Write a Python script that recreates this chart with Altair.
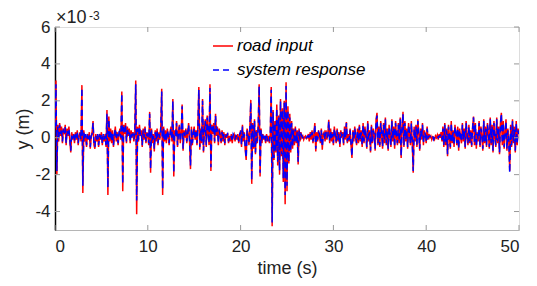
import altair as alt
import pandas as pd

# values in units of 1e-3 m, sampled every 0.1 s from 0 to 50 s
road_input = [
    0.6, 3.1, -2.0, 0.7, -0.2, 0.8, 0.1, 0.6, -0.3, 0.5,
    0.2, 0.7, -0.4, 0.5, 0.1, 0.6, -0.2, -0.8, 0.3, -0.1,
    0.2, -0.3, 0.3, -0.1, 0.4, -0.4, 0.1, 0.3, -0.2, 2.85,
    -3.0, 0.4, -0.2, 0.1, -0.5, 0.2, -0.1, 0.3, -0.6, 0.0,
    0.3, 0.9, -0.4, -0.6, 0.2, -0.2, 0.1, -0.5, 0.2, -0.1,
    0.3, -0.4, 0.1, -0.2, 0.2, -0.5, 1.5, -3.1, 1.15, -0.2,
    0.5, -0.3, 0.4, -0.5, 0.1, 0.6, -0.2, 0.3, -0.4, 0.2,
    0.5, -0.1, 2.5, -2.9, 0.7, 0.2, 0.8, -0.3, 0.6, 0.1,
    0.5, -0.3, 0.4, 0.0, 0.3, -0.2, 0.2, 3.1, -4.15, 0.6,
    -0.2, 0.7, 0.1, 0.4, -0.5, 0.5, -0.1, 0.6, -0.3, 0.3,
    0.1, -0.4, 1.4, -1.9, 0.5, -0.3, 0.2, -0.75, 0.4, -0.2,
    0.5, -0.4, 0.3, -0.1, 0.6, 2.65, -3.1, 0.6, -0.2, 0.4,
    -0.3, 0.5, 0.1, -0.4, 0.3, 0.6, -0.2, 2.1, -2.1, 0.4,
    0.1, 0.9, -0.5, 0.3, 0.7, -0.3, 0.2, 1.8, -0.7, 0.4,
    0.0, 0.5, -0.3, 0.3, 0.8, -0.2, -1.7, 0.6, -0.4, 0.3,
    0.6, -0.1, 0.4, -0.4, 0.7, 2.75, -0.65, 0.5, -0.3, 2.1,
    -0.8, 0.6, 1.0, -0.5, 1.2, 0.2, -0.4, 2.9, -1.8, 0.7,
    0.2, 0.8, -0.3, 1.3, 0.1, 0.6, -0.4, 0.5, 0.2, -0.3,
    0.4, -0.2, 0.3, -0.4, 0.2, 0.0, 0.25, -0.3, 0.1, -0.2,
    0.2, -0.3, 0.1, 0.2, -0.2, 0.15, -0.1, 0.2, -0.3, 0.1,
    0.4, -0.5, 0.7, -0.2, 0.3, -0.65, -1.2, 0.5, 0.2, -0.4,
    0.6, 2.05, -2.5, 0.8, -0.6, 1.0, -0.9, 0.4, -0.3, 0.7,
    2.9, -2.1, 0.5, -0.3, 0.2, -0.1, 0.1, -0.3, 0.2, -0.2,
    0.1, -0.3, 0.2, 2.75, -4.8, 1.5, -1.2, 0.9, -0.8, 1.8,
    -1.5, 1.2, -2.0, 2.1, -1.0, 1.6, -2.4, 2.0, -3.6, 3.0,
    -2.9, 1.7, -1.4, 1.3, -0.8, 0.9, -0.6, 0.5, -0.4, 0.6,
    -0.3, 0.4, -1.45, 0.5, -0.2, 0.3, 0.0, 0.1, -0.1, 0.05,
    0.1, -0.05, 0.0, 0.2, -0.2, 0.3, -0.1, 0.4, -0.3, 0.2,
    0.8, -0.75, 0.3, -0.2, 0.4, 0.1, -0.3, 0.5, -0.65, 0.2,
    0.3, -0.2, 0.4, -0.1, 0.2, 0.97, -0.3, 0.5, -0.2, 0.3,
    -0.4, 0.6, 0.1, -0.3, 0.5, -0.2, 0.3, -0.5, 0.4, 0.0,
    0.3, -0.4, 0.6, -0.1, 0.85, -0.3, 0.2, -0.2, 0.5, -0.4,
    -1.1, 0.4, -0.2, 0.6, 0.0, -0.4, 0.5, -0.3, 0.7, -0.2,
    0.4, -0.5, 0.8, -0.3, 0.6, 0.1, -0.6, 0.9, -0.2, 0.4,
    -0.8, 0.7, -0.3, 0.5, 0.1, -0.7, 1.0, 1.35, -0.4, 0.6,
    -0.5, 0.9, 0.2, -0.6, 0.8, -0.3, 1.1, -0.4, 0.5, -0.7,
    0.7, 0.1, -0.5, 1.0, -0.2, 0.6, -0.6, 0.9, 0.0, -0.4,
    0.8, -0.3, 1.1, -1.1, 0.6, 1.4, -0.5, 0.9, -0.2, 0.5,
    -0.6, 0.8, 0.2, -0.4, 0.9, -0.3, -1.9, 0.6, -0.2, 0.7,
    -0.5, 1.0, 0.3, -0.7, 0.5, -0.1, 0.8, -0.4, 0.4, 0.1,
    -0.3, 0.6, -0.1, 0.2, 0.0, 0.1, -0.1, 0.05, 0.0, -0.1,
    0.1, 0.0, 0.15, -0.1, 0.2, 0.0, 0.3, -0.2, 0.6, -0.5,
    0.8, -0.4, 0.5, -1.0, 0.7, 0.1, -0.6, 0.9, -0.3, 0.4,
    -0.5, 0.7, 0.2, -0.4, 0.6, -0.7, 0.5, 0.0, -0.3, 0.8,
    -0.2, 0.5, -0.6, 0.9, 0.1, -0.4, 0.7, -0.3, 0.4, -0.5,
    0.6, 1.15, -0.4, 0.8, -0.6, 0.3, -0.2, 0.9, -0.5, 0.6,
    0.1, -0.7, 1.0, -0.3, 0.6, -0.5, 0.8, 0.2, -0.6, 1.1,
    -0.4, 0.7, -0.8, 0.9, 0.0, -0.5, 1.1, -0.3, 0.6, -0.9,
    0.8, 1.35, -0.4, 0.9, -0.6, 0.3, 1.0, -0.7, 0.5, -0.2,
    -1.8, 0.7, -0.5, 1.0, -0.3, 0.6, -0.8, 0.9, -0.4, 0.5,
    0.2,
]

system_response = [
    0.5, 2.9, -1.8, 0.6, -0.1, 0.7, 0.2, 0.5, -0.2, 0.4,
    0.3, 0.6, -0.3, 0.4, 0.2, 0.5, -0.1, -0.7, 0.2, 0.0,
    0.1, -0.2, 0.3, 0.0, 0.3, -0.3, 0.2, 0.2, -0.1, 2.7,
    -2.6, 0.3, -0.1, 0.2, -0.4, 0.1, 0.0, 0.2, -0.5, 0.1,
    0.2, 0.8, -0.3, -0.5, 0.1, -0.1, 0.2, -0.4, 0.1, 0.0,
    0.2, -0.3, 0.2, -0.1, 0.1, -0.4, 1.3, -2.7, 1.0, -0.1,
    0.4, -0.2, 0.3, -0.4, 0.2, 0.5, -0.1, 0.2, -0.3, 0.3,
    0.4, 0.0, 2.4, -2.5, 0.6, 0.3, 0.7, -0.2, 0.5, 0.2,
    0.4, -0.2, 0.3, 0.1, 0.2, -0.1, 0.3, 2.9, -3.4, 0.5,
    -0.1, 0.6, 0.2, 0.3, -0.4, 0.4, 0.0, 0.5, -0.2, 0.2,
    0.2, -0.3, 1.3, -1.7, 0.4, -0.2, 0.1, -0.6, 0.3, -0.1,
    0.4, -0.3, 0.2, 0.0, 0.5, 2.5, -2.8, 0.5, -0.1, 0.3,
    -0.2, 0.4, 0.2, -0.3, 0.2, 0.5, -0.1, 2.0, -1.9, 0.3,
    0.2, 0.8, -0.4, 0.2, 0.6, -0.2, 0.3, 1.7, -0.6, 0.3,
    0.1, 0.4, -0.2, 0.2, 0.7, -0.1, -1.5, 0.5, -0.3, 0.2,
    0.5, 0.0, 0.3, -0.3, 0.6, 2.6, -0.5, 0.4, -0.2, 2.0,
    -0.7, 0.5, 0.9, -0.4, 1.1, 0.3, -0.3, 2.7, -1.6, 0.6,
    0.3, 0.7, -0.2, 1.2, 0.2, 0.5, -0.3, 0.4, 0.1, -0.2,
    0.3, -0.1, 0.2, -0.3, 0.1, 0.1, 0.2, -0.2, 0.0, -0.1,
    0.1, -0.2, 0.2, 0.1, -0.1, 0.1, 0.0, 0.1, -0.2, 0.2,
    0.3, -0.4, 0.6, -0.1, 0.2, -0.5, -1.1, 0.4, 0.1, -0.3,
    0.5, 1.9, -2.3, 0.7, -0.5, 0.9, -0.8, 0.3, -0.2, 0.6,
    2.8, -1.9, 0.4, -0.2, 0.1, 0.0, 0.2, -0.2, 0.1, -0.1,
    0.0, -0.2, 0.3, 2.6, -4.6, 1.4, -1.1, 0.8, -0.7, 1.6,
    -1.3, 1.1, -1.8, 2.0, -0.9, 1.5, -2.2, 1.9, -3.1, 2.8,
    -2.6, 1.5, -1.3, 1.1, -0.7, 0.8, -0.5, 0.4, -0.3, 0.5,
    -0.2, 0.3, -1.3, 0.4, -0.1, 0.2, 0.1, 0.0, 0.0, 0.1,
    0.0, 0.0, 0.1, 0.1, -0.1, 0.2, 0.0, 0.3, -0.2, 0.1,
    0.7, -0.6, 0.2, -0.1, 0.3, 0.2, -0.2, 0.4, -0.5, 0.1,
    0.2, -0.1, 0.3, 0.0, 0.1, 0.9, -0.2, 0.4, -0.1, 0.2,
    -0.3, 0.5, 0.2, -0.2, 0.4, -0.1, 0.2, -0.4, 0.3, 0.1,
    0.2, -0.3, 0.5, 0.0, 0.8, -0.2, 0.1, -0.1, 0.4, -0.3,
    -1.0, 0.3, -0.1, 0.5, 0.1, -0.3, 0.4, -0.2, 0.6, -0.1,
    0.3, -0.4, 0.7, -0.2, 0.5, 0.2, -0.5, 0.8, -0.1, 0.3,
    -0.7, 0.6, -0.2, 0.4, 0.2, -0.6, 0.9, 1.2, -0.3, 0.5,
    -0.4, 0.8, 0.3, -0.5, 0.7, -0.2, 1.0, -0.3, 0.4, -0.6,
    0.6, 0.2, -0.4, 0.9, -0.1, 0.5, -0.5, 0.8, 0.1, -0.3,
    0.7, -0.2, 1.0, -1.0, 0.5, 1.3, -0.4, 0.8, -0.1, 0.4,
    -0.5, 0.7, 0.3, -0.3, 0.8, -0.2, -1.8, 0.5, -0.1, 0.6,
    -0.4, 0.9, 0.2, -0.6, 0.4, 0.0, 0.7, -0.3, 0.3, 0.2,
    -0.2, 0.5, 0.0, 0.1, 0.1, 0.0, 0.0, 0.1, -0.1, 0.0,
    0.1, 0.1, 0.1, 0.0, 0.1, 0.1, 0.2, -0.1, 0.5, -0.4,
    0.7, -0.3, 0.4, -0.9, 0.6, 0.2, -0.5, 0.8, -0.2, 0.3,
    -0.4, 0.6, 0.3, -0.3, 0.5, -0.6, 0.4, 0.1, -0.2, 0.7,
    -0.1, 0.4, -0.5, 0.8, 0.2, -0.3, 0.6, -0.2, 0.3, -0.4,
    0.5, 1.1, -0.3, 0.7, -0.5, 0.2, -0.1, 0.8, -0.4, 0.5,
    0.2, -0.6, 0.9, -0.2, 0.5, -0.4, 0.7, 0.3, -0.5, 1.0,
    -0.3, 0.6, -0.7, 0.8, 0.1, -0.4, 1.0, -0.2, 0.5, -0.8,
    0.7, 1.3, -0.3, 0.8, -0.5, 0.2, 0.9, -0.6, 0.4, -0.1,
    -1.9, 0.6, -0.4, 0.9, -0.2, 0.5, -0.7, 0.8, -0.3, 0.4,
    0.1,
]

series_names = ["road input", "system response"]
series_colors = ["#ff0000", "#0000ff"]
x_ticks = [0, 10, 20, 30, 40, 50]
y_ticks = [-4, -2, 0, 2, 4, 6]

FONT = "Liberation Sans"
W, H = 464, 203

times = [round(i * 0.1, 1) for i in range(len(road_input))]
rows = []
for name, vals in zip(series_names, [road_input, system_response]):
    for i, (t, v) in enumerate(zip(times, vals)):
        rows.append({"t": t, "y": v, "series": name, "order": i})
df = pd.DataFrame(rows)

xscale = alt.Scale(domain=[0, 50], nice=False, zero=False)
yscale = alt.Scale(domain=[-5, 6], nice=False, zero=False)

legend_kw = dict(orient="none", legendX=157, legendY=8, title=None,
                 labelFont=FONT, labelFontSize=17, labelFontStyle="italic",
                 labelColor="#000", symbolType="stroke", symbolSize=400,
                 symbolStrokeWidth=1.5, rowPadding=5, labelOffset=3, padding=0)

lines = alt.Chart(df).mark_line(strokeWidth=1.5, clip=True).encode(
    x=alt.X("t:Q", scale=xscale,
            axis=alt.Axis(values=x_ticks, title="time (s)", ticks=False, grid=False,
                          labelFontSize=17, titleFontSize=18, labelPadding=8,
                          titlePadding=5, domainColor="#b5b5b5", labelColor="#222",
                          titleColor="#222", titleFontWeight="normal")),
    y=alt.Y("y:Q", scale=yscale,
            axis=alt.Axis(values=y_ticks, title="y (m)", ticks=False, grid=False,
                          labelExpr="'' + datum.value",
                          labelFontSize=17, titleFontSize=18, labelPadding=5,
                          titlePadding=2, domainColor="#000", domainWidth=1.5,
                          labelColor="#222", titleColor="#222", titleFontWeight="normal")),
    color=alt.Color("series:N",
                    scale=alt.Scale(domain=series_names, range=series_colors),
                    legend=alt.Legend(**legend_kw)),
    strokeDash=alt.StrokeDash("series:N",
                              scale=alt.Scale(domain=series_names, range=[[1, 0], [6, 4]]),
                              legend=alt.Legend(**legend_kw)),
    order=alt.Order("order:Q"),
)

tick_df_x = pd.DataFrame({"t": x_ticks})
tick_df_y = pd.DataFrame({"y": y_ticks})

xt_bottom = alt.Chart(tick_df_x).mark_rule(color="#999", strokeWidth=1).encode(
    x=alt.X("t:Q", scale=xscale), y=alt.value(H), y2=alt.value(H - 5))
xt_top = alt.Chart(tick_df_x).mark_rule(color="#999", strokeWidth=1).encode(
    x=alt.X("t:Q", scale=xscale), y=alt.value(0), y2=alt.value(5))
yt_left = alt.Chart(tick_df_y).mark_rule(color="#999", strokeWidth=1).encode(
    y=alt.Y("y:Q", scale=yscale), x=alt.value(0), x2=alt.value(5))
yt_right = alt.Chart(tick_df_y).mark_rule(color="#999", strokeWidth=1).encode(
    y=alt.Y("y:Q", scale=yscale), x=alt.value(W), x2=alt.value(W - 5))

mult = alt.Chart(pd.DataFrame({"s": ["×10"]})).mark_text(
    align="left", baseline="alphabetic", fontSize=18, font=FONT, color="#222"
).encode(text="s:N", x=alt.value(1), y=alt.value(-4))
expo = alt.Chart(pd.DataFrame({"s": ["-3"]})).mark_text(
    align="left", baseline="alphabetic", fontSize=12, font=FONT, color="#222"
).encode(text="s:N", x=alt.value(34), y=alt.value(-7))

chart = alt.layer(lines, xt_bottom, xt_top, yt_left, yt_right, mult, expo).properties(
    width=W, height=H,
    autosize=alt.AutoSizeParams(type="none"),
    padding={"left": 47, "top": 19, "right": 10, "bottom": 50},
).configure_view(stroke="#b5b5b5", strokeWidth=1).configure_axis(
    labelFont=FONT, titleFont=FONT
).configure(background="white")

chart.save("out.html", embed_options={"renderer": "svg", "actions": False})
